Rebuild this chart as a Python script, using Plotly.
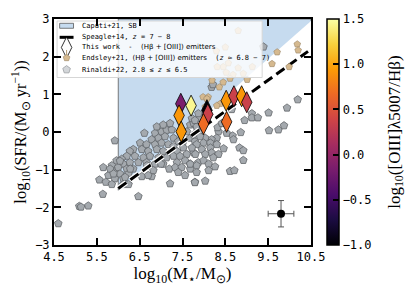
import plotly.graph_objects as go

# Rinaldi+22 (grey pentagons)
rin_mass = [4.60, 5.09, 5.13, 5.30,
    5.92, 6.61, 6.86, 7.01, 7.13, 7.25, 7.68, 7.83, 6.78, 6.94, 7.09, 7.29, 7.40,
    6.51, 6.66, 6.86, 7.01, 7.17, 7.29, 7.52, 7.68, 7.79, 6.35, 6.55, 6.70, 6.90,
    7.05, 7.21, 7.37, 7.52, 6.27, 6.20, 6.39, 6.59, 6.74, 6.94, 7.13, 7.29, 7.44,
    7.60, 7.76, 6.08, 5.96, 6.12, 6.27, 6.47, 6.66, 6.86, 7.05, 7.37, 7.56, 7.68,
    7.87, 5.85, 6.00, 6.20, 6.35, 5.89, 6.04, 6.24, 5.77, 5.92, 6.12, 5.65, 5.56,
    5.71, 5.85, 6.12, 6.24, 6.55, 6.78, 7.21, 7.56, 7.79, 7.68, 7.19, 7.00, 5.64,
    6.47, 6.90, 7.05, 7.21, 7.76, 7.60, 7.91, 7.33, 7.48, 7.83, 7.40,
    9.51, 9.94, 10.19, 9.12, 9.12, 9.26, 8.95, 8.65, 9.52, 9.74, 9.87, 8.86, 8.67,
    8.69, 8.46, 8.83, 8.92, 8.92, 8.61, 8.71, 8.03, 7.79, 8.34, 8.32, 8.42, 8.53,
    8.30, 8.18, 8.03, 7.91, 7.76, 7.99, 8.15, 8.30, 7.83, 7.72, 7.95, 8.15, 8.18,
    8.34, 7.80, 8.03, 8.22, 7.99, 8.11, 7.83, 8.26, 8.11, 7.68, 7.76, 7.91, 7.83,
    7.72, 7.87, 7.79, 8.18, 8.21, 9.39,
    5.81, 6.04, 6.28, 6.67, 6.82, 6.70, 5.89, 6.16]
rin_sfr = [-2.43, -1.97, -1.99, -1.96,
    -0.23, -0.03, -0.03, 0.01, 0.05, 0.06, 0.19, 0.14, -0.20, -0.16, -0.12, -0.16, -0.25,
    -0.29, -0.33, -0.33, -0.29, -0.33, -0.38, -0.25, -0.16, -0.25, -0.46, -0.46, -0.51, -0.46,
    -0.51, -0.55, -0.51, -0.42, -0.51, -0.64, -0.64, -0.68, -0.64, -0.68, -0.68, -0.64, -0.64,
    -0.59, -0.55, -0.72, -0.76, -0.85, -0.81, -0.81, -0.81, -0.85, -0.85, -0.81, -0.76, -0.85,
    -0.81, -0.89, -0.94, -0.98, -0.98, -1.07, -1.11, -1.11, -1.15, -1.24, -1.24, -0.94, -1.27,
    -1.33, -1.39, -1.39, -1.39, -1.18, -1.18, -1.37, -1.15, -1.33, -0.98, -0.98, -0.85, -1.65,
    -1.71, 0.14, 0.19, 0.23, 0.31, 0.01, -0.03, -0.94, -0.94, -1.07, -1.07,
    0.51, 0.64, 0.86, 0.49, 0.38, 0.38, 0.31, 0.60, 0.04, 0.06, 0.17, -0.01, -0.10,
    -0.20, -0.44, -0.42, -0.49, -0.75, -1.04, -1.02, -1.30, -1.34, 0.01, 0.12, 0.23, -0.03,
    -0.16, -0.20, -0.16, -0.12, -0.07, -0.29, -0.29, -0.33, -0.33, -0.42, -0.46, -0.42, -0.55,
    -0.59, -0.59, -0.59, -0.68, -0.76, -0.85, -0.89, -0.92, -1.02, -0.85, 0.23, 0.36, 0.14,
    0.36, 0.49, 0.31, 1.19, 1.26, 2.26,
    -0.98, -0.77, -0.98, -0.89, -1.02, -1.15, -1.11, -1.20]

# Endsley+21 (tan)
end_mass = [8.80, 10.18, 10.20, 9.71, 9.99, 9.59, 8.68, 8.92, 8.50, 8.29, 8.57, 8.45,
            8.80, 8.52, 8.19, 8.45, 8.36, 8.61, 9.01, 9.13, 8.31, 7.98, 8.10, 8.38,
            8.03, 8.30, 8.07]
end_sfr = [2.69, 2.33, 2.17, 2.12, 1.73, 1.81, 1.52, 1.55, 2.25, 2.15, 1.83, 1.73,
           1.70, 1.58, 1.37, 1.32, 1.19, 1.42, 1.39, 1.73, 1.73, 0.93, 0.93, 0.75,
           0.67, 0.70, 0.88]

# This work (diamonds), colour = log10([OIII]/Hb)
tw_mass = [8.07, 7.46, 7.70, 7.42, 7.47, 8.09, 7.99, 8.52, 8.70, 8.88, 9.00, 8.53]
tw_sfr = [0.58, 0.75, 0.70, 0.44, 0.01, 0.47, 0.21, 0.83, 0.95, 0.95, 0.79, 0.27]
tw_ratio = [-1.0, -0.15, 1.45, 0.92, 0.92, 0.35, 0.68, 0.92, 0.35, 0.92, 0.35, 0.68]

# Caputi+21 starburst region and Speagle+14 MS
cap_mass = [6.0, 6.0, 10.5, 10.5]
cap_sfr = [-1.55, 3.0, 3.0, 2.95]
spe_mass = [6.0, 10.43]
spe_sfr = [-1.50, 2.14]

# typical error
err_mass, err_sfr, err_dm, err_ds = [9.8], [-2.17], [0.3], [0.35]

xticks = [4.5, 5.5, 6.5, 7.5, 8.5, 9.5, 10.5]
yticks = [-3, -2, -1, 0, 1, 2, 3]
cticks = [-1.0, -0.5, 0.0, 0.5, 1.0, 1.5]

legend_labels = [
    "Caputi+21, SB",
    "Speagle+14, <i>z</i> = 7 − 8",
    'This work  -  <span style="font-family:DejaVu Sans">(Hβ + [OIII]) emitters</span>',
    'Endsley+21, <span style="font-family:DejaVu Sans">(Hβ + [OIII]) emitters</span>  (<i>z</i> ≈ 6.8 − 7)',
    "Rinaldi+22, 2.8 ≤ <i>z</i> ≤ 6.5",
]

MONO = "DejaVu Sans Mono"
SERIF = "Liberation Serif"

fig = go.Figure()
fig.add_trace(go.Scatter(x=cap_mass, y=cap_sfr, fill="toself", mode="lines",
    fillcolor="#c6dbef", line=dict(color="rgba(90,90,90,0.8)", width=1)))
fig.add_trace(go.Scatter(x=rin_mass, y=rin_sfr, mode="markers",
    marker=dict(symbol="pentagon", size=8, color="#a4a9ae",
                line=dict(color="#62666a", width=0.8))))
fig.add_trace(go.Scatter(x=spe_mass, y=spe_sfr, mode="lines",
    line=dict(color="white", width=5.5, dash="10px,5px")))
fig.add_trace(go.Scatter(x=spe_mass, y=spe_sfr, mode="lines",
    line=dict(color="black", width=3, dash="10px,5px")))
fig.add_trace(go.Scatter(x=end_mass, y=end_sfr, mode="markers",
    marker=dict(symbol="pentagon", size=7, color="#d5b98f",
                line=dict(color="#9a8465", width=0.6))))
fig.add_trace(go.Scatter(x=tw_mass, y=tw_sfr, mode="markers",
    marker=dict(symbol="diamond-tall", size=15, color=tw_ratio, colorscale="Inferno",
                cmin=-1.0, cmax=1.5, line=dict(color="black", width=0.8),
                colorbar=dict(thickness=12, len=1.0, lenmode="fraction", y=0.5,
                              yanchor="middle", ypad=0, x=1.062, xanchor="left", xpad=0,
                              tickvals=cticks, ticktext=["−1.0", "−0.5", "0.0", "0.5", "1.0", "1.5"],
                              ticks="inside", ticklen=6, tickwidth=1.5, tickcolor="black",
                              outlinecolor="black", outlinewidth=1.5,
                              tickfont=dict(family=MONO, size=12, color="black")))))
fig.add_trace(go.Scatter(x=err_mass, y=err_sfr, mode="markers",
    marker=dict(symbol="circle", size=8, color="black"),
    error_x=dict(type="data", array=err_dm, color="#555555", thickness=1, width=3),
    error_y=dict(type="data", array=err_ds, color="#555555", thickness=1, width=3)))

# ---- legend drawn on an overlay axis (fractions of the plot area) ----
L = dict(xaxis="x2", yaxis="y2", hoverinfo="skip")
lx0, lx1, ly0, ly1 = 0.012, 0.81, 0.741, 0.991
rows = [0.970, 0.919, 0.874, 0.828, 0.776]
kx = 0.049
fig.add_trace(go.Scatter(x=[lx0, lx1, lx1, lx0, lx0], y=[ly0, ly0, ly1, ly1, ly0], mode="lines",
    fill="toself", fillcolor="rgba(255,255,255,0.8)", line=dict(color="#d6d6d6", width=1), **L))
fig.add_trace(go.Scatter(x=[kx - 0.027, kx + 0.027, kx + 0.027, kx - 0.027, kx - 0.027],
    y=[rows[0] - 0.011, rows[0] - 0.011, rows[0] + 0.011, rows[0] + 0.011, rows[0] - 0.011],
    mode="lines", fill="toself", fillcolor="#c6dbef", line=dict(color="rgba(90,90,90,0.8)", width=1), **L))
fig.add_trace(go.Scatter(x=[kx - 0.027, kx + 0.027], y=[rows[1], rows[1]], mode="lines",
    line=dict(color="black", width=3), **L))
fig.add_trace(go.Scatter(x=[kx], y=[rows[2]], mode="markers",
    marker=dict(symbol="diamond-tall", size=15, color="white", line=dict(color="black", width=0.8)), **L))
fig.add_trace(go.Scatter(x=[kx, kx], y=[rows[3] + 0.008, rows[3] + 0.035], mode="lines",
    line=dict(color="#b59b75", width=1), **L))
fig.add_trace(go.Scatter(x=[kx], y=[rows[3]], mode="markers",
    marker=dict(symbol="pentagon", size=7, color="#d5b98f", line=dict(color="#9a8465", width=0.6)), **L))
fig.add_trace(go.Scatter(x=[kx], y=[rows[4]], mode="markers",
    marker=dict(symbol="pentagon", size=8, color="#d3d6d9", line=dict(color="#9a9ea2", width=0.8)), **L))
for lab, ry in zip(legend_labels, rows):
    fig.add_annotation(text=lab, xref="paper", yref="paper", x=0.103, y=ry,
                       xanchor="left", yanchor="middle", showarrow=False,
                       font=dict(family=MONO, size=7, color="black"))

axis_common = dict(showline=True, linecolor="black", linewidth=2, mirror="ticks",
                   ticks="inside", ticklen=7, tickwidth=2, tickcolor="black",
                   showgrid=False, zeroline=False,
                   tickfont=dict(family=MONO, size=12, color="black"))
fig.update_xaxes(range=[4.5, 10.5], tickvals=xticks, ticktext=[f"{v:.1f}" for v in xticks],
                 title=dict(text="log<sub>10</sub>(M<sub>⋆</sub>/M<sub>⊙</sub>)",
                            font=dict(family=SERIF, size=17, color="black"), standoff=1),
                 **axis_common)
fig.update_yaxes(range=[-3, 3], tickvals=yticks, ticktext=["−3", "−2", "−1", "0", "1", "2", "3"],
                 title=dict(text="log<sub>10</sub>(SFR/(M<sub>⊙</sub> yr<sup>−1</sup>))",
                            font=dict(family=SERIF, size=16.5, color="black"), standoff=4),
                 **axis_common)
fig.update_layout(
    xaxis2=dict(overlaying="x", range=[0, 1], visible=False, fixedrange=True),
    yaxis2=dict(overlaying="y", range=[0, 1], visible=False, fixedrange=True))

fig.add_annotation(text="log<sub>10</sub>([OIII]λ5007/Hβ)", textangle=-90, xref="paper", yref="paper",
                   x=1.33, y=0.5, showarrow=False, xanchor="center", yanchor="middle",
                   font=dict(family=SERIF, size=17, color="black"))

fig.update_layout(width=407, height=291, margin=dict(l=54, r=96, t=13, b=46),
                  paper_bgcolor="white", plot_bgcolor="white", showlegend=False,
                  hovermode=False)
fig.write_html("out.html", config={"displayModeBar": False},
               post_script="document.body.style.margin='0px';")
